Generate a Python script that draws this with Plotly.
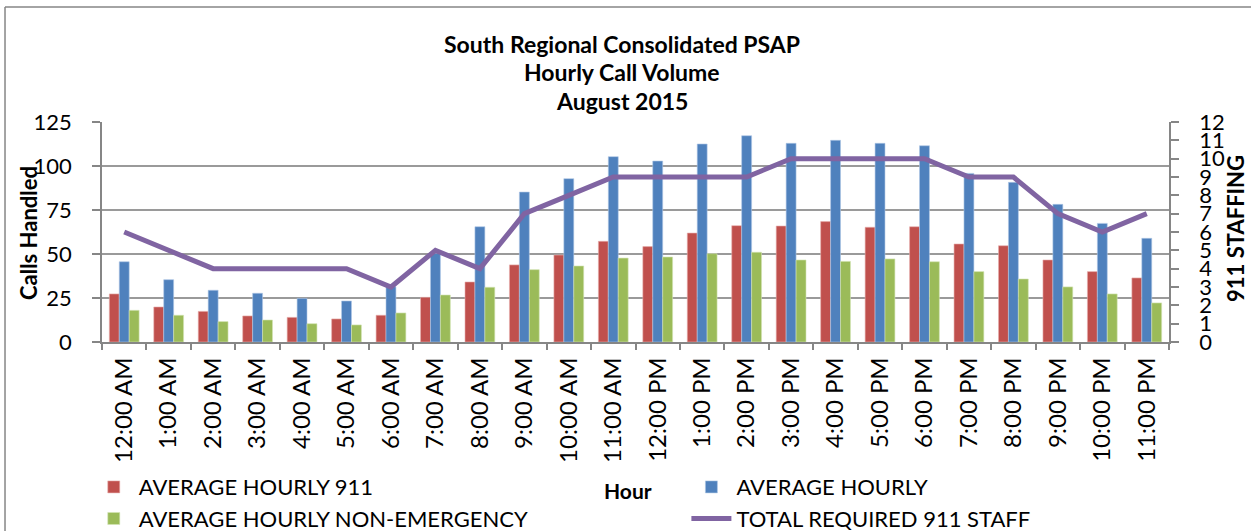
import plotly.graph_objects as go

hours = ["12:00 AM", "1:00 AM", "2:00 AM", "3:00 AM", "4:00 AM", "5:00 AM",
         "6:00 AM", "7:00 AM", "8:00 AM", "9:00 AM", "10:00 AM", "11:00 AM",
         "12:00 PM", "1:00 PM", "2:00 PM", "3:00 PM", "4:00 PM", "5:00 PM",
         "6:00 PM", "7:00 PM", "8:00 PM", "9:00 PM", "10:00 PM", "11:00 PM"]

avg_911 = [27.3, 19.9, 17.4, 14.8, 14.0, 13.1, 15.2, 25.4, 34.1, 43.8, 49.4, 57.2,
           54.2, 61.9, 66.1, 65.9, 68.4, 65.2, 65.5, 55.7, 54.7, 46.6, 40.0, 36.4]
avg_hourly = [45.6, 35.4, 29.4, 27.7, 24.8, 23.3, 31.4, 50.4, 65.5, 85.2, 92.8, 105.3,
              102.8, 112.5, 117.2, 112.9, 114.6, 112.9, 111.5, 95.8, 90.7, 78.2, 67.4, 58.9]
avg_non_emerg = [18.0, 15.2, 11.6, 12.5, 10.4, 9.7, 16.5, 26.7, 31.1, 41.1, 43.2, 47.7,
                 48.3, 50.2, 51.0, 46.6, 45.8, 47.2, 45.6, 40.0, 35.8, 31.3, 27.3, 22.2]
staff = [6, 5, 4, 4, 4, 4, 3, 5, 4, 7, 8, 9, 9, 9, 9, 10, 10, 10, 10, 9, 9, 7, 6, 7]

left_ticks = [0, 25, 50, 75, 100, 125]
right_ticks = list(range(0, 13))

FONT = "Lato"
GRID = "#9a9a9a"
AXIS = "#868686"

fig = go.Figure()
fig.add_trace(go.Bar(x=hours, y=avg_911, name="AVERAGE HOURLY 911",
                     marker=dict(color="#C0504D", line=dict(width=0.6, color="#e8b0ae")),
                     legend="legend"))
fig.add_trace(go.Bar(x=hours, y=avg_hourly, name="AVERAGE HOURLY",
                     marker=dict(color="#4F81BD", line=dict(width=0.6, color="#b0c8e6")),
                     legend="legend2"))
fig.add_trace(go.Bar(x=hours, y=avg_non_emerg, name="AVERAGE HOURLY NON-EMERGENCY",
                     marker=dict(color="#9BBB59", line=dict(width=0.6, color="#d3e4b6")),
                     legend="legend"))
fig.add_trace(go.Scatter(x=hours, y=staff, name="TOTAL REQUIRED 911 STAFF", yaxis="y2",
                         mode="lines", line=dict(color="#8064A2", width=5),
                         legend="legend2"))

fig.update_layout(
    width=1251, height=531,
    margin=dict(l=102, r=82, t=122, b=189, autoexpand=False),
    paper_bgcolor="white", plot_bgcolor="white",
    font=dict(family=FONT, size=22, color="black"),
    barmode="group", bargap=0.33, bargroupgap=0,
    xaxis=dict(type="category", showgrid=False, showline=True, linecolor=AXIS, linewidth=1.5,
               ticks="outside", tickson="boundaries", ticklen=6, tickcolor=AXIS, tickwidth=1.5,
               tickangle=-90, tickfont=dict(size=24), ticklabelstandoff=4, automargin=False),
    yaxis=dict(range=[0, 125], tickvals=left_ticks, showgrid=True, gridcolor=GRID, gridwidth=1.5,
               showline=True, linecolor=AXIS, linewidth=1.5, ticks="outside", ticklen=8,
               tickcolor=AXIS, tickwidth=1.5, tickfont=dict(size=22), ticklabelstandoff=16,
               zeroline=False, automargin=False),
    yaxis2=dict(range=[0, 12], tickvals=right_ticks, overlaying="y", side="right",
                showgrid=False, showline=True, linecolor=AXIS, linewidth=1.5, ticks="outside",
                ticklen=8, tickcolor=AXIS, tickwidth=1.5, tickfont=dict(size=22),
                ticklabelstandoff=16, zeroline=False, automargin=False),
    legend=dict(orientation="v", x=-0.0124, xanchor="left", y=-0.564, yanchor="top",
                font=dict(size=22), tracegroupgap=0, itemwidth=40, bgcolor="rgba(0,0,0,0)"),
    legend2=dict(orientation="v", x=0.5477, xanchor="left", y=-0.564, yanchor="top",
                 font=dict(size=22), tracegroupgap=0, itemwidth=40, bgcolor="rgba(0,0,0,0)"),
    showlegend=True,
)

titles = ["South Regional Consolidated PSAP", "Hourly Call Volume", "August 2015"]
title_y = [1.355, 1.228, 1.096]
for t, yy in zip(titles, title_y):
    fig.add_annotation(text="<b>" + t + "</b>", x=0.487, y=yy, xref="paper", yref="paper",
                       showarrow=False, font=dict(size=23), xanchor="center", yanchor="middle")

# axis titles
fig.add_annotation(text="<b>Calls Handled</b>", x=-0.0694, y=0.495, xref="paper", yref="paper",
                   showarrow=False, textangle=-90, font=dict(size=22),
                   xanchor="center", yanchor="middle")
fig.add_annotation(text="<b>911 STAFFING</b>", x=1.0628, y=0.514, xref="paper", yref="paper",
                   showarrow=False, textangle=-90, font=dict(size=22),
                   xanchor="center", yanchor="middle")
fig.add_annotation(text="<b>Hour</b>", x=0.493, y=-0.677, xref="paper", yref="paper",
                   showarrow=False, font=dict(size=21), xanchor="center", yanchor="middle")

# outer chart border (top and left edges visible)
fig.add_shape(type="line", xref="paper", yref="paper", x0=-0.0909, x1=1.1, y0=1.5227, y1=1.5227,
              line=dict(color=AXIS, width=1.5))
fig.add_shape(type="line", xref="paper", yref="paper", x0=-0.0909, x1=-0.0909, y0=-0.95, y1=1.5227,
              line=dict(color=AXIS, width=1.5))

fig.write_html("out.html", config={"displayModeBar": False},
               post_script="document.body.style.margin='0px';")
